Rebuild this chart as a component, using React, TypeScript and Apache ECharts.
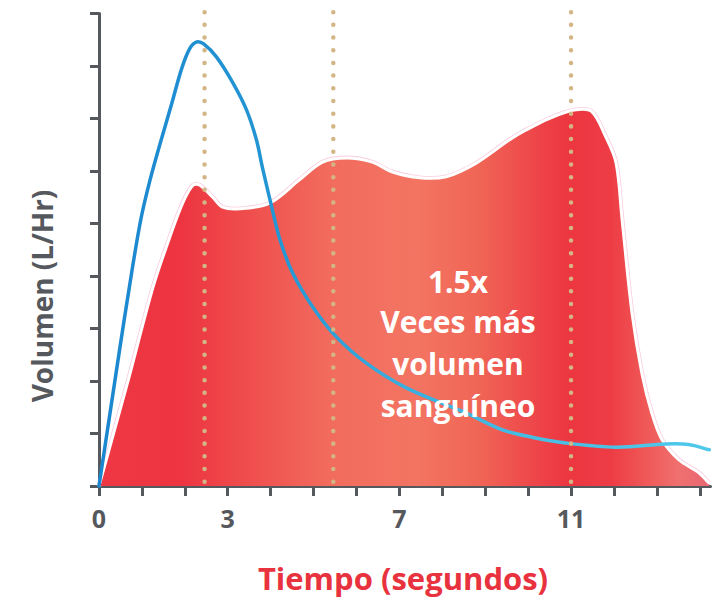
import React, { useEffect, useRef } from "react";
import * as echarts from "echarts";

// Red area: time (s) / volume
const areaTime = [0, 0.65, 1.26, 1.65, 1.95, 2.19, 2.35, 2.65, 2.88, 3.28, 3.98, 4.67, 5.21, 5.77, 6.37, 6.84, 7.47, 8.09, 8.79, 9.56, 9.95, 10.49, 11.07, 11.47, 11.81, 12.05, 12.19, 12.42, 12.65, 12.88, 13.12, 13.51, 13.98, 14.22];
const areaVolume = [0, 1.92, 3.79, 4.74, 5.39, 5.73, 5.73, 5.5, 5.31, 5.28, 5.39, 5.83, 6.17, 6.25, 6.17, 5.98, 5.87, 5.89, 6.15, 6.59, 6.78, 7.0, 7.16, 7.14, 6.65, 6.15, 5.07, 3.3, 2.15, 1.39, 0.88, 0.5, 0.25, 0.05];

// Blue line: time (s) / volume
const lineTime = [0, 0.49, 0.77, 0.98, 1.19, 1.42, 1.7, 1.93, 2.12, 2.28, 2.44, 2.74, 3.12, 3.44, 3.67, 3.81, 4.02, 4.21, 4.51, 4.98, 5.53, 6.23, 7.16, 8.56, 9.4, 10.09, 10.88, 12.05, 13.21, 13.74, 14.22];
const lineVolume = [0, 2.65, 4.11, 5.1, 5.83, 6.51, 7.3, 7.96, 8.34, 8.46, 8.42, 8.17, 7.68, 7.16, 6.59, 6.06, 5.33, 4.71, 4.06, 3.41, 2.84, 2.34, 1.87, 1.39, 1.07, 0.93, 0.82, 0.74, 0.8, 0.79, 0.69];

const markerTimes = [2.46, 5.46, 11];
const xTickLabels = [0, 3, 7, 11];
const annotationLines = ["1.5x", "Veces más", "volumen", "sanguíneo"];
const yTitle = "Volumen (L/Hr)";
const xTitle = "Tiempo (segundos)";

const FONT = '"Open Sans", "Noto Sans", sans-serif';
const GREY = "#55585c";

type Pt = number[];

// Cubic Bezier path through the given pixel points (distance-weighted Catmull-Rom)
function curvePath(pts: Pt[]): string {
  const n = pts.length;
  const tang: Pt[] = pts.map((p, i) => {
    const a = pts[Math.max(0, i - 1)];
    const b = pts[Math.min(n - 1, i + 1)];
    return [b[0] - a[0], b[1] - a[1]];
  });
  const dist = (a: Pt, b: Pt) => Math.hypot(b[0] - a[0], b[1] - a[1]);
  let d = `M${pts[0][0]},${pts[0][1]}`;
  for (let i = 0; i < n - 1; i++) {
    const p0 = pts[i];
    const p1 = pts[i + 1];
    const seg = dist(p0, p1);
    let c1: Pt, c2: Pt;
    if (i === 0) {
      c1 = [p0[0] + (p1[0] - p0[0]) / 3, p0[1] + (p1[1] - p0[1]) / 3];
    } else {
      const dPrev = dist(pts[i - 1], p0);
      const r = seg / (3 * (dPrev + seg));
      c1 = [p0[0] + tang[i][0] * r, p0[1] + tang[i][1] * r];
    }
    if (i + 1 === n - 1) {
      c2 = [p1[0] - (p1[0] - p0[0]) / 3, p1[1] - (p1[1] - p0[1]) / 3];
    } else {
      const dNext = dist(p1, pts[i + 2]);
      const r = seg / (3 * (dNext + seg));
      c2 = [p1[0] - tang[i + 1][0] * r, p1[1] - tang[i + 1][1] * r];
    }
    d += ` C${c1[0]},${c1[1]} ${c2[0]},${c2[1]} ${p1[0]},${p1[1]}`;
  }
  return d;
}

export default function App() {
  const ref = useRef<HTMLDivElement>(null);
  useEffect(() => {
    if (!ref.current) return;
    const chart = echarts.init(ref.current, null, { renderer: "svg" });
    const areaData = areaTime.map((t, i) => [t, areaVolume[i]]);
    const lineData = lineTime.map((t, i) => [t, lineVolume[i]]);
    const annCenters = [281, 321, 363, 405];

    const areaGradient = new echarts.graphic.LinearGradient(0, 0, 1, 0, [
      { offset: 0, color: "#ee3843" },
      { offset: 0.13, color: "#ed3440" },
      { offset: 0.38, color: "#f26c5d" },
      { offset: 0.52, color: "#f37462" },
      { offset: 0.62, color: "#f06656" },
      { offset: 0.72, color: "#ee4449" },
      { offset: 0.77, color: "#ec3640" },
      { offset: 0.84, color: "#ee3c45" },
      { offset: 0.9, color: "#ef5a58" },
      { offset: 0.95, color: "#f07070" },
      { offset: 1, color: "#e96672" },
    ]);
    const blueGradient = new echarts.graphic.LinearGradient(0, 0, 1, 0, [
      { offset: 0, color: "#1a86cf" },
      { offset: 0.3, color: "#2597d4" },
      { offset: 0.5, color: "#3aaedf" },
      { offset: 0.75, color: "#48c0e5" },
      { offset: 1, color: "#50c8ea" },
    ]);

    chart.setOption({
      animation: false,
      grid: { left: 99, top: 13.5, right: 7.5, bottom: 112 },
      xAxis: {
        type: "value",
        min: 0,
        max: 14.25,
        interval: 1,
        splitLine: { show: false },
        axisLine: { lineStyle: { color: GREY, width: 3 } },
        axisTick: { show: true, length: 10, lineStyle: { color: GREY, width: 3 } },
        axisLabel: {
          margin: 19,
          color: GREY,
          fontFamily: FONT,
          fontWeight: "bold",
          fontSize: 25,
          showMaxLabel: false,
          formatter: (v: number) => (xTickLabels.includes(v) ? String(v) : ""),
        },
      },
      yAxis: {
        type: "value",
        min: 0,
        max: 9,
        interval: 1,
        splitLine: { show: false },
        axisLine: { show: true, lineStyle: { color: GREY, width: 3 } },
        axisTick: { show: true, length: 9, lineStyle: { color: GREY, width: 3 } },
        axisLabel: { show: false },
      },
      series: [
        {
          type: "custom",
          z: 1,
          silent: true,
          data: areaData,
          renderItem: (params: any, api: any) => {
            if (params.dataIndex !== 0) return null;
            const pts = areaData.map((p) => api.coord(p));
            const base = api.coord([0, 0])[1];
            const top = curvePath(pts);
            const last = pts[pts.length - 1];
            const fill = `${top} L${last[0]},${base} L${pts[0][0]},${base} Z`;
            return {
              type: "group",
              children: [
                {
                  type: "path",
                  z2: 1,
                  shape: { pathData: top },
                  style: { fill: "none", stroke: "#f9cde0", lineWidth: 4.6 },
                },
                {
                  type: "path",
                  z2: 2,
                  shape: { pathData: fill },
                  style: { fill: areaGradient, stroke: "none" },
                },
                {
                  type: "path",
                  z2: 3,
                  shape: { pathData: top },
                  style: { fill: "none", stroke: "#ffffff", lineWidth: 3 },
                },
              ],
            };
          },
        },
        {
          type: "custom",
          z: 3,
          silent: true,
          data: lineData,
          renderItem: (params: any, api: any) => {
            if (params.dataIndex !== 0) return null;
            const pts = lineData.map((p) => api.coord(p));
            return {
              type: "path",
              shape: { pathData: curvePath(pts) },
              style: { fill: "none", stroke: blueGradient, lineWidth: 3.5, lineCap: "round" },
            };
          },
        },
        {
          type: "custom",
          z: 5,
          silent: true,
          data: markerTimes.map((t) => [t, 0]),
          renderItem: (params: any, api: any) => {
            const t = markerTimes[params.dataIndex];
            const b = api.coord([t, 0]);
            const e = api.coord([t, 9]);
            return {
              type: "line",
              shape: { x1: b[0], y1: b[1] - 4.3, x2: e[0], y2: e[1] - 1.5 },
              style: { stroke: "#d4b585", lineWidth: 4.5, lineDash: [0.01, 12.68], lineCap: "round" },
            };
          },
        },
      ],
      graphic: [
        {
          type: "text",
          x: 42,
          y: 296,
          rotation: Math.PI / 2,
          style: {
            text: yTitle,
            font: `bold 28px ${FONT}`,
            fill: GREY,
            align: "center",
            verticalAlign: "middle",
          },
        },
        {
          type: "text",
          x: 403,
          y: 578,
          style: {
            text: xTitle,
            font: `bold 31px ${FONT}`,
            fill: "#e8323e",
            align: "center",
            verticalAlign: "middle",
          },
        },
        ...annotationLines.map((s, i) => ({
          type: "text",
          x: 458,
          y: annCenters[i],
          z: 10,
          style: {
            text: s,
            font: `bold 30px ${FONT}`,
            fill: "#ffffff",
            align: "center",
            verticalAlign: "middle",
          },
        })),
      ],
    });
    return () => chart.dispose();
  }, []);
  return (
    <div
      ref={ref}
      style={{ position: "absolute", left: 0, top: 0, width: 718, height: 598 }}
    />
  );
}
